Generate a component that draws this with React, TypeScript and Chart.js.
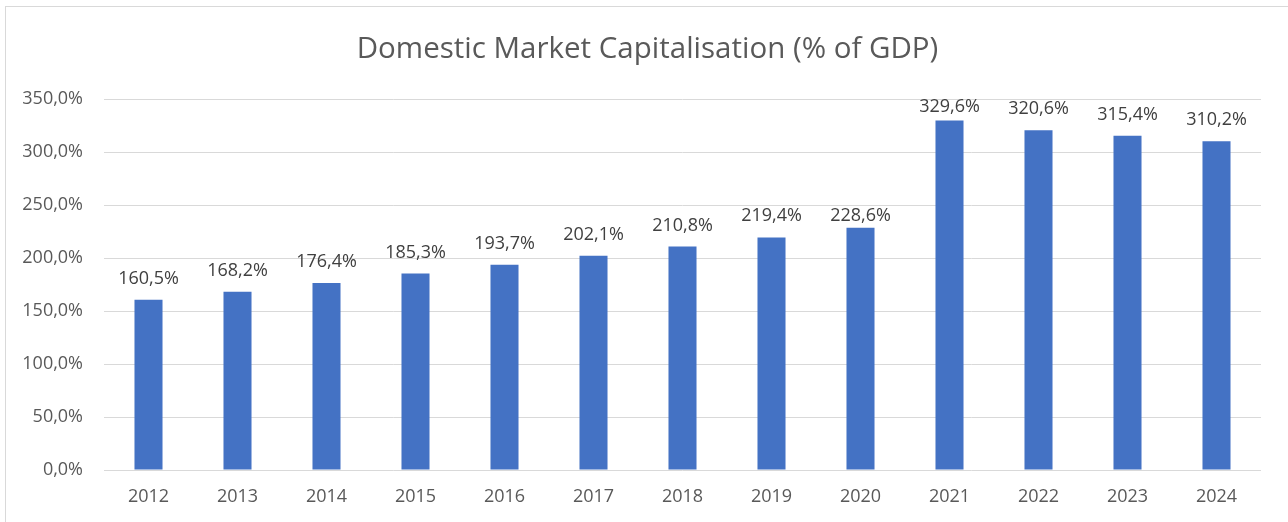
import React, { useEffect, useRef } from "react";
import { Chart, registerables } from "chart.js";

Chart.register(...registerables);

const TITLE = "Domestic Market Capitalisation (% of GDP)";
const YEARS = ["2012", "2013", "2014", "2015", "2016", "2017", "2018", "2019", "2020", "2021", "2022", "2023", "2024"];
const CAP_PCT = [160.5, 168.2, 176.4, 185.3, 193.7, 202.1, 210.8, 219.4, 228.6, 329.6, 320.6, 315.4, 310.2];
const Y_MIN = 0;
const Y_MAX = 350;
const Y_STEP = 50;

const fmt = (v: number) => v.toFixed(1).replace(".", ",") + "%";

const dataLabels = {
  id: "dataLabels",
  afterDatasetsDraw(chart: any, _args: any, opts: any) {
    const ctx = chart.ctx;
    const meta = chart.getDatasetMeta(0);
    const ds = chart.data.datasets[0];
    const gaps = (opts && opts.gaps) || {};
    ctx.save();
    ctx.font = "18px 'Open Sans'";
    ctx.fillStyle = "#404040";
    ctx.textAlign = "center";
    ctx.textBaseline = "alphabetic";
    meta.data.forEach((bar: any, i: number) => {
      const gap = gaps[chart.data.labels[i]] ?? 16;
      const y = Math.max(bar.y - gap, chart.chartArea.top + 12.7);
      ctx.fillText(fmt(ds.data[i] as number), bar.x, y);
    });
    ctx.restore();
  },
};

const frameTitle = {
  id: "frameTitle",
  afterDraw(chart: any) {
    const ctx = chart.ctx;
    ctx.save();
    ctx.font = "29.5px 'Open Sans'";
    ctx.fillStyle = "#595959";
    ctx.textAlign = "center";
    ctx.textBaseline = "middle";
    ctx.fillText(TITLE, 647.5, 49.3);
    ctx.restore();
  },
};

export default function App() {
  const ref = useRef<HTMLCanvasElement>(null);
  useEffect(() => {
    document.body.style.margin = "0";
    const chart = new Chart(ref.current!, {
      type: "bar",
      data: {
        labels: YEARS,
        datasets: [
          {
            data: CAP_PCT,
            backgroundColor: "#4472C4",
            borderWidth: 0,
            categoryPercentage: 1,
            barPercentage: 0.315,
          },
        ],
      },
      options: {
        animation: false,
        responsive: false,
        layout: { padding: { left: 0, right: 27, top: 99, bottom: 0 } },
        plugins: {
          legend: { display: false },
          tooltip: { enabled: false },
          title: { display: false },
          dataLabels: { gaps: { "2020": 6.6 } },
        } as any,
        scales: {
          x: {
            grid: { display: false, drawTicks: false },
            border: { display: false },
            ticks: {
              color: "#595959",
              font: { family: "'Open Sans'", size: 18 },
              padding: 16,
              maxRotation: 0,
            },
            afterFit: (s: any) => {
              s.height = 52;
            },
          },
          y: {
            min: Y_MIN,
            max: Y_MAX,
            grid: { color: "#d9d9d9", lineWidth: 1, drawTicks: false },
            border: { display: false },
            ticks: {
              stepSize: Y_STEP,
              color: "#595959",
              font: { family: "'Open Sans'", size: 18 },
              padding: 21,
              callback: (v: any) => fmt(Number(v)),
            },
            afterFit: (s: any) => {
              s.width = 104;
            },
          },
        },
      },
      plugins: [dataLabels, frameTitle],
    });
    return () => chart.destroy();
  }, []);
  return (
    <div style={{ position: "relative", width: 1288, height: 522, overflow: "hidden", background: "#fff" }}>
      <div
        style={{
          position: "absolute",
          left: 5,
          top: 6,
          width: 1400,
          height: 700,
          border: "1px solid #d9d9d9",
          boxSizing: "border-box",
        }}
      />
      <canvas ref={ref} width={1288} height={522} style={{ position: "absolute", left: 0, top: 0, width: 1288, height: 522 }} />
    </div>
  );
}
